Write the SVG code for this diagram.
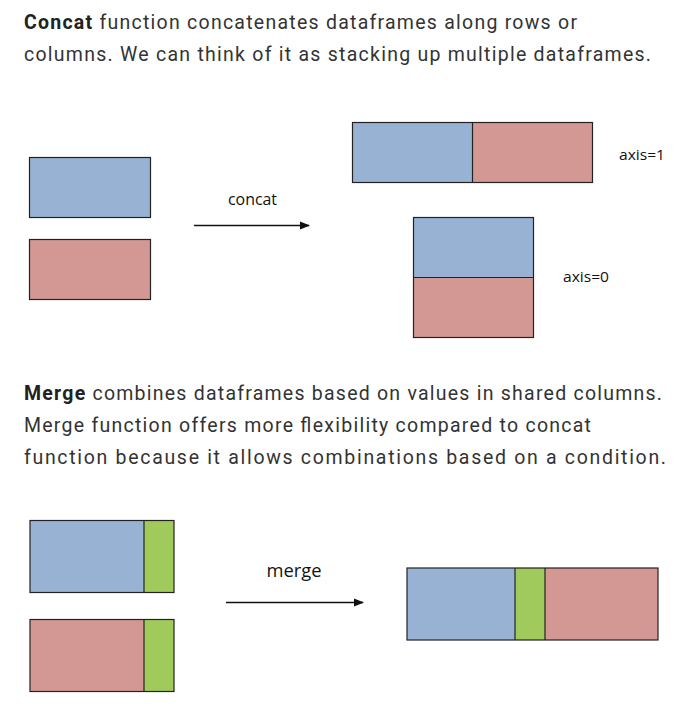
<svg xmlns="http://www.w3.org/2000/svg" width="684" height="714" viewBox="0 0 684 714">
<style>
.para{font-family:Roboto,"Liberation Sans",sans-serif;font-size:19.5px;fill:#333333;}
.b{font-weight:bold;fill:#222222;}
.lbl{font-family:"Open Sans","Liberation Sans",sans-serif;fill:#111111;}
.blue{fill:#98B2D4;}
.red{fill:#D39894;}
.green{fill:#A0CB5C;}
.edge{fill:none;stroke:#222222;stroke-width:1.2;}
.conn{fill:none;stroke:#111111;stroke-width:1.6;}
</style>
<defs>
<marker id="ah" markerWidth="11" markerHeight="10" refX="9" refY="5" orient="auto" markerUnits="userSpaceOnUse">
<path d="M0,1 L10,5 L0,9 Z" fill="#111111"/>
</marker>
</defs>
<rect width="684" height="714" fill="#ffffff"/>

<g id="text-concat">
<text class="para" x="24" y="29" textLength="553" lengthAdjust="spacing"><tspan class="b">Concat</tspan> function concatenates dataframes along rows or</text>
<text class="para" x="24" y="61" textLength="627" lengthAdjust="spacing">columns. We can think of it as stacking up multiple dataframes.</text>
</g>

<g id="df-blue">
<rect class="blue" x="29.5" y="157.5" width="121" height="60"/>
<rect class="edge" x="29.5" y="157.5" width="121" height="60"/>
</g>
<g id="df-red">
<rect class="red" x="29.5" y="239.5" width="121" height="60"/>
<rect class="edge" x="29.5" y="239.5" width="121" height="60" stroke="#555"/>
</g>

<g id="result-axis1">
<rect class="blue" x="352.5" y="122.5" width="120" height="60"/>
<rect class="red" x="472.5" y="122.5" width="120" height="60"/>
<rect class="edge" x="352.5" y="122.5" width="240" height="60"/>
<line class="edge" x1="472.5" y1="122.5" x2="472.5" y2="182.5"/>
<text class="lbl" x="619" y="160" font-size="15" textLength="46" lengthAdjust="spacingAndGlyphs">axis=1</text>
</g>

<g id="result-axis0">
<rect class="blue" x="413.5" y="217.5" width="120" height="60"/>
<rect class="red" x="413.5" y="277.5" width="120" height="60"/>
<rect class="edge" x="413.5" y="217.5" width="120" height="120"/>
<line class="edge" x1="413.5" y1="277.5" x2="533.5" y2="277.5" stroke="#666"/>
<text class="lbl" x="563" y="281.5" font-size="15" textLength="46" lengthAdjust="spacingAndGlyphs">axis=0</text>
</g>

<g id="text-merge">
<text class="para" x="24" y="400" textLength="638" lengthAdjust="spacing"><tspan class="b">Merge</tspan> combines dataframes based on values in shared columns.</text>
<text class="para" x="24" y="432" textLength="567" lengthAdjust="spacing">Merge function offers more flexibility compared to concat</text>
<text class="para" x="24" y="464" textLength="642" lengthAdjust="spacing">function because it allows combinations based on a condition.</text>
</g>

<g id="m-df-blue">
<rect class="blue" x="30" y="520.5" width="114" height="72"/>
<rect class="green" x="144" y="520.5" width="30" height="72"/>
<rect class="edge" x="30" y="520.5" width="144" height="72"/>
<line class="edge" x1="144" y1="520.5" x2="144" y2="592.5" stroke="#444"/>
</g>
<g id="m-df-red">
<rect class="red" x="30" y="619.5" width="114" height="72"/>
<rect class="green" x="144" y="619.5" width="30" height="72"/>
<rect class="edge" x="30" y="619.5" width="144" height="72"/>
<line class="edge" x1="144" y1="619.5" x2="144" y2="691.5" stroke="#444"/>
</g>

<g id="m-result">
<rect class="blue" x="407" y="568" width="108" height="72"/>
<rect class="green" x="515" y="568" width="30" height="72"/>
<rect class="red" x="545" y="568" width="113" height="72"/>
<rect class="edge" x="407" y="568" width="251" height="72" stroke="#555" stroke-width="1.6"/>
<line class="edge" x1="515" y1="568" x2="515" y2="640"/>
<line class="edge" x1="545" y1="568" x2="545" y2="640"/>
</g>

<g id="connectors">
<line class="conn" x1="194" y1="225.5" x2="309" y2="225.5" marker-end="url(#ah)"/>
<text class="lbl" x="252.5" y="204.5" font-size="16" text-anchor="middle" textLength="49" lengthAdjust="spacingAndGlyphs">concat</text>
<line class="conn" x1="226" y1="602.5" x2="363" y2="602.5" marker-end="url(#ah)"/>
<text class="lbl" x="294" y="577" font-size="18" text-anchor="middle" textLength="55" lengthAdjust="spacingAndGlyphs">merge</text>
</g>
</svg>
